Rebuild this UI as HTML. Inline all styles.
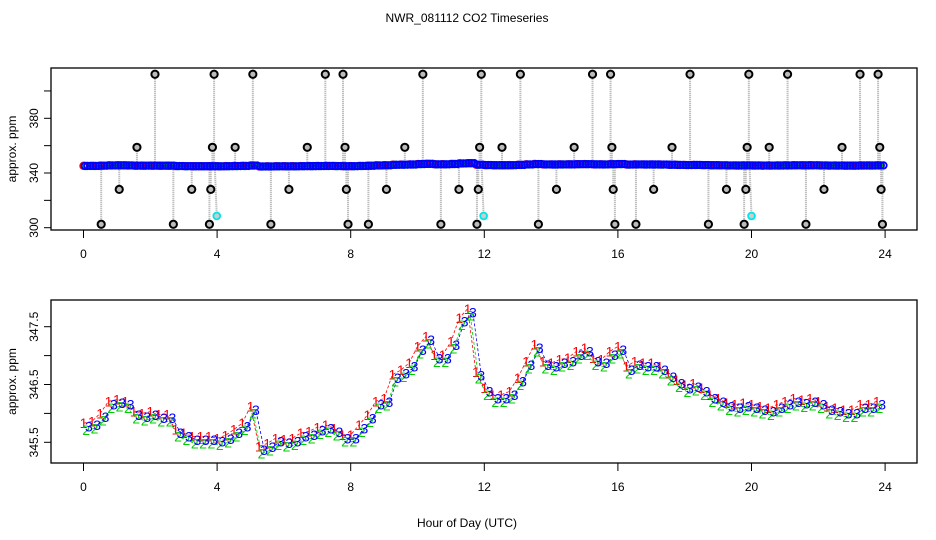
<!DOCTYPE html>
<html><head><meta charset="utf-8">
<style>
html,body{margin:0;padding:0;background:#fff;}
svg{display:block;font-family:"Liberation Sans",Arial,sans-serif;}
</style></head>
<body>
<svg id="chart" width="936" height="540" viewBox="0 0 936 540" xmlns="http://www.w3.org/2000/svg">
  <rect width="936" height="540" fill="#fff"/>
  <text x="467" y="22" font-size="12" text-anchor="middle">NWR_081112  CO2 Timeseries</text>
  <text x="467" y="527" font-size="12" text-anchor="middle">Hour of Day (UTC)</text>
  <g id="top"></g>
  <g id="bot"></g>
</svg>
<script>
const hours = [0,0.25,0.5,0.75,1,1.25,1.5,1.75,2,2.25,2.5,2.75,3,3.25,3.5,3.75,
4,4.25,4.5,4.75,5,5.25,5.5,5.75,6,6.25,6.5,6.75,7,7.25,7.5,7.75,
8,8.25,8.5,8.75,9,9.25,9.5,9.75,10,10.25,10.5,10.75,11,11.25,11.5,11.75,
12,12.25,12.5,12.75,13,13.25,13.5,13.75,14,14.25,14.5,14.75,15,15.25,15.5,15.75,
16,16.25,16.5,16.75,17,17.25,17.5,17.75,18,18.25,18.5,18.75,19,19.25,19.5,19.75,
20,20.25,20.5,20.75,21,21.25,21.5,21.75,22,22.25,22.5,22.75,23,23.25,23.5,23.75];
const co2 = [345.77,345.8,345.94,346.15,346.18,346.15,345.97,345.94,345.97,345.92,345.92,345.66,345.6,345.54,345.54,345.54,
345.51,345.56,345.66,345.77,346.06,345.37,345.42,345.51,345.49,345.51,345.6,345.63,345.7,345.74,345.68,345.57,
345.57,345.74,345.91,346.15,346.2,346.61,346.69,346.81,347.1,347.27,346.95,346.95,347.18,347.59,347.75,346.66,
346.38,346.26,346.26,346.32,346.55,346.84,347.13,346.84,346.81,346.87,346.9,347.01,347.07,346.9,346.87,347.01,
347.1,346.75,346.84,346.81,346.81,346.75,346.63,346.52,346.43,346.46,346.38,346.26,346.2,346.12,346.09,346.12,
346.09,346.06,346.03,346.09,346.15,346.2,346.17,346.2,346.15,346.06,346.03,346.0,346.0,346.09,346.09,346.15];
const seriesLabels = ["1","2","3"];
const seriesColors = ["#ff0000","#00cc00","#0000ff"];
const seriesValueOffsets = [0.06,-0.06,0];
const seriesHourOffsets = [0,0.08,0.16];
const outlierHours = [0.53,1.07,1.6,2.14,2.69,3.24,3.77,3.81,3.86,3.91,4.54,5.07,5.61,6.15,6.7,7.24,7.77,7.83,7.87,7.92,8.53,9.07,9.62,10.16,10.7,11.24,11.78,11.82,11.86,11.91,12.53,13.08,13.62,14.16,14.69,15.24,15.78,15.82,15.86,15.91,16.54,17.07,17.62,18.16,18.71,19.25,19.78,19.83,19.87,19.92,20.53,21.08,21.63,22.17,22.71,23.25,23.79,23.84,23.88,23.92];
const outlierValues = [302.5,328,358.8,412.2,302.5,328,302.5,328,358.8,412.2,358.8,412.2,302.5,328,358.8,412.2,412.2,358.8,328,302.5,302.5,328,358.8,412.2,302.5,328,302.5,328,358.8,412.2,358.8,412.2,302.5,328,358.8,412.2,412.2,358.8,328,302.5,302.5,328,358.8,412.2,302.5,328,302.5,328,358.8,412.2,358.8,412.2,302.5,328,358.8,412.2,412.2,358.8,328,302.5];
const flaggedHours = [3.99,11.98,20.0];
const flaggedValues = [308.6,308.6,308.6];
const xTicks = [0,4,8,12,16,20,24];
const topYTicks = [300,320,340,360,380,400];
const topYLabels = ["300","","340","","380",""];
const botYTicks = [345.5,346,346.5,347,347.5];
const botYLabels = ["345.5","","346.5","","347.5"];

const NS="http://www.w3.org/2000/svg";
function mk(tag, attrs, parent){const e=document.createElementNS(NS,tag);for(const k in attrs)e.setAttribute(k,attrs[k]);parent.appendChild(e);return e;}
const X0=51,X1=917;
const xs = h => 83.5 + h*33.4;
const yTop = v => 227.7 - (v-300)*1.3675;
const yBot = v => 442.3 - (v-345.5)*57.8;

function axes(g, top, bottom, yfun, yticks, ylabels){
  const box=mk('rect',{x:X0,y:top,width:X1-X0,height:bottom-top,fill:'none',stroke:'#000','stroke-width':1.3},g);
  
  
  xTicks.forEach(t=>{
    const l=mk('line',{x1:xs(t),x2:xs(t),y1:bottom,y2:bottom+8,stroke:'#000'},g);
    
    
    const tx=mk('text',{x:xs(t),y:bottom+28,'font-size':12,'text-anchor':'middle'},g);
    tx.textContent=t;
    
    
  });
  yticks.forEach((t,i)=>{
    const y=yfun(t);
    const l=mk('line',{x1:X0-7,x2:X0,y1:y,y2:y,stroke:'#000'},g);
    
    
    if(ylabels[i]){
      const tx=mk('text',{x:0,y:0,'font-size':12,'text-anchor':'middle',transform:`translate(38,${y}) rotate(-90)`},g);
      tx.textContent=ylabels[i];
      
      
    }
  });
  const yt=mk('text',{x:0,y:0,'font-size':12,'text-anchor':'middle',transform:`translate(16,${(top+bottom)/2}) rotate(-90)`},g);
  yt.textContent='approx. ppm';
  
  
}

// TOP PANEL
const gt=document.getElementById('top');
axes(gt,68,230,yTop,topYTicks,topYLabels);
const mainLevel=yTop(345.3);
outlierHours.forEach((h,i)=>{
  const l=mk('line',{x1:xs(h),x2:xs(h),y1:mainLevel,y2:yTop(outlierValues[i]),stroke:'#aaa','stroke-width':2,'stroke-dasharray':'1 1'},gt);
  
  
});
flaggedHours.forEach((h,i)=>{
  const l=mk('line',{x1:xs(h)-2,x2:xs(h),y1:mainLevel,y2:yTop(flaggedValues[i]),stroke:'#aaa','stroke-width':2,'stroke-dasharray':'1 1'},gt);
  
  
});
[0,1].forEach(s=>{
  hours.forEach((h,i)=>{
    const c=mk('circle',{cx:xs(h+seriesHourOffsets[s]),cy:yTop(co2[i]+seriesValueOffsets[s]-0.6),r:3.3,fill:'none',stroke:seriesColors[s],'stroke-width':1.8},gt);
    
    
  });
});
hours.forEach((h,i)=>{
  [0.04,0.12,0.2].forEach(o=>{
    const c=mk('circle',{cx:xs(h+o),cy:yTop(co2[i]-0.6),r:3.3,fill:'none',stroke:'#0000ff','stroke-width':1.8},gt);
    
    
  });
});
outlierHours.forEach((h,i)=>{
  const c=mk('circle',{cx:xs(h),cy:yTop(outlierValues[i]),r:3.6,fill:'#bbb',stroke:'#000','stroke-width':2},gt);
  
  
});
flaggedHours.forEach((h,i)=>{
  const c=mk('circle',{cx:xs(h),cy:yTop(flaggedValues[i]),r:3.4,fill:'#ccc',stroke:'#00e5e5','stroke-width':1.8},gt);
  
  
});

// BOTTOM PANEL
const gb=document.getElementById('bot');
axes(gb,300,463,yBot,botYTicks,botYLabels);
seriesLabels.forEach((lab,s)=>{
  const pts=hours.map((h,i)=>xs(h+seriesHourOffsets[s]).toFixed(1)+','+yBot(co2[i]+seriesValueOffsets[s]).toFixed(1)).join(' ');
  const pl=mk('polyline',{points:pts,fill:'none',stroke:seriesColors[s],'stroke-width':0.8,'stroke-dasharray':'3 2'},gb);
  
  
});
seriesLabels.forEach((lab,s)=>{
  hours.forEach((h,i)=>{
    const t=mk('text',{x:xs(h+seriesHourOffsets[s]),y:yBot(co2[i]+seriesValueOffsets[s])+5,'font-size':14,'text-anchor':'middle',fill:seriesColors[s]},gb);
    t.textContent=lab;
    
    
  });
});
</script>
</body></html>
